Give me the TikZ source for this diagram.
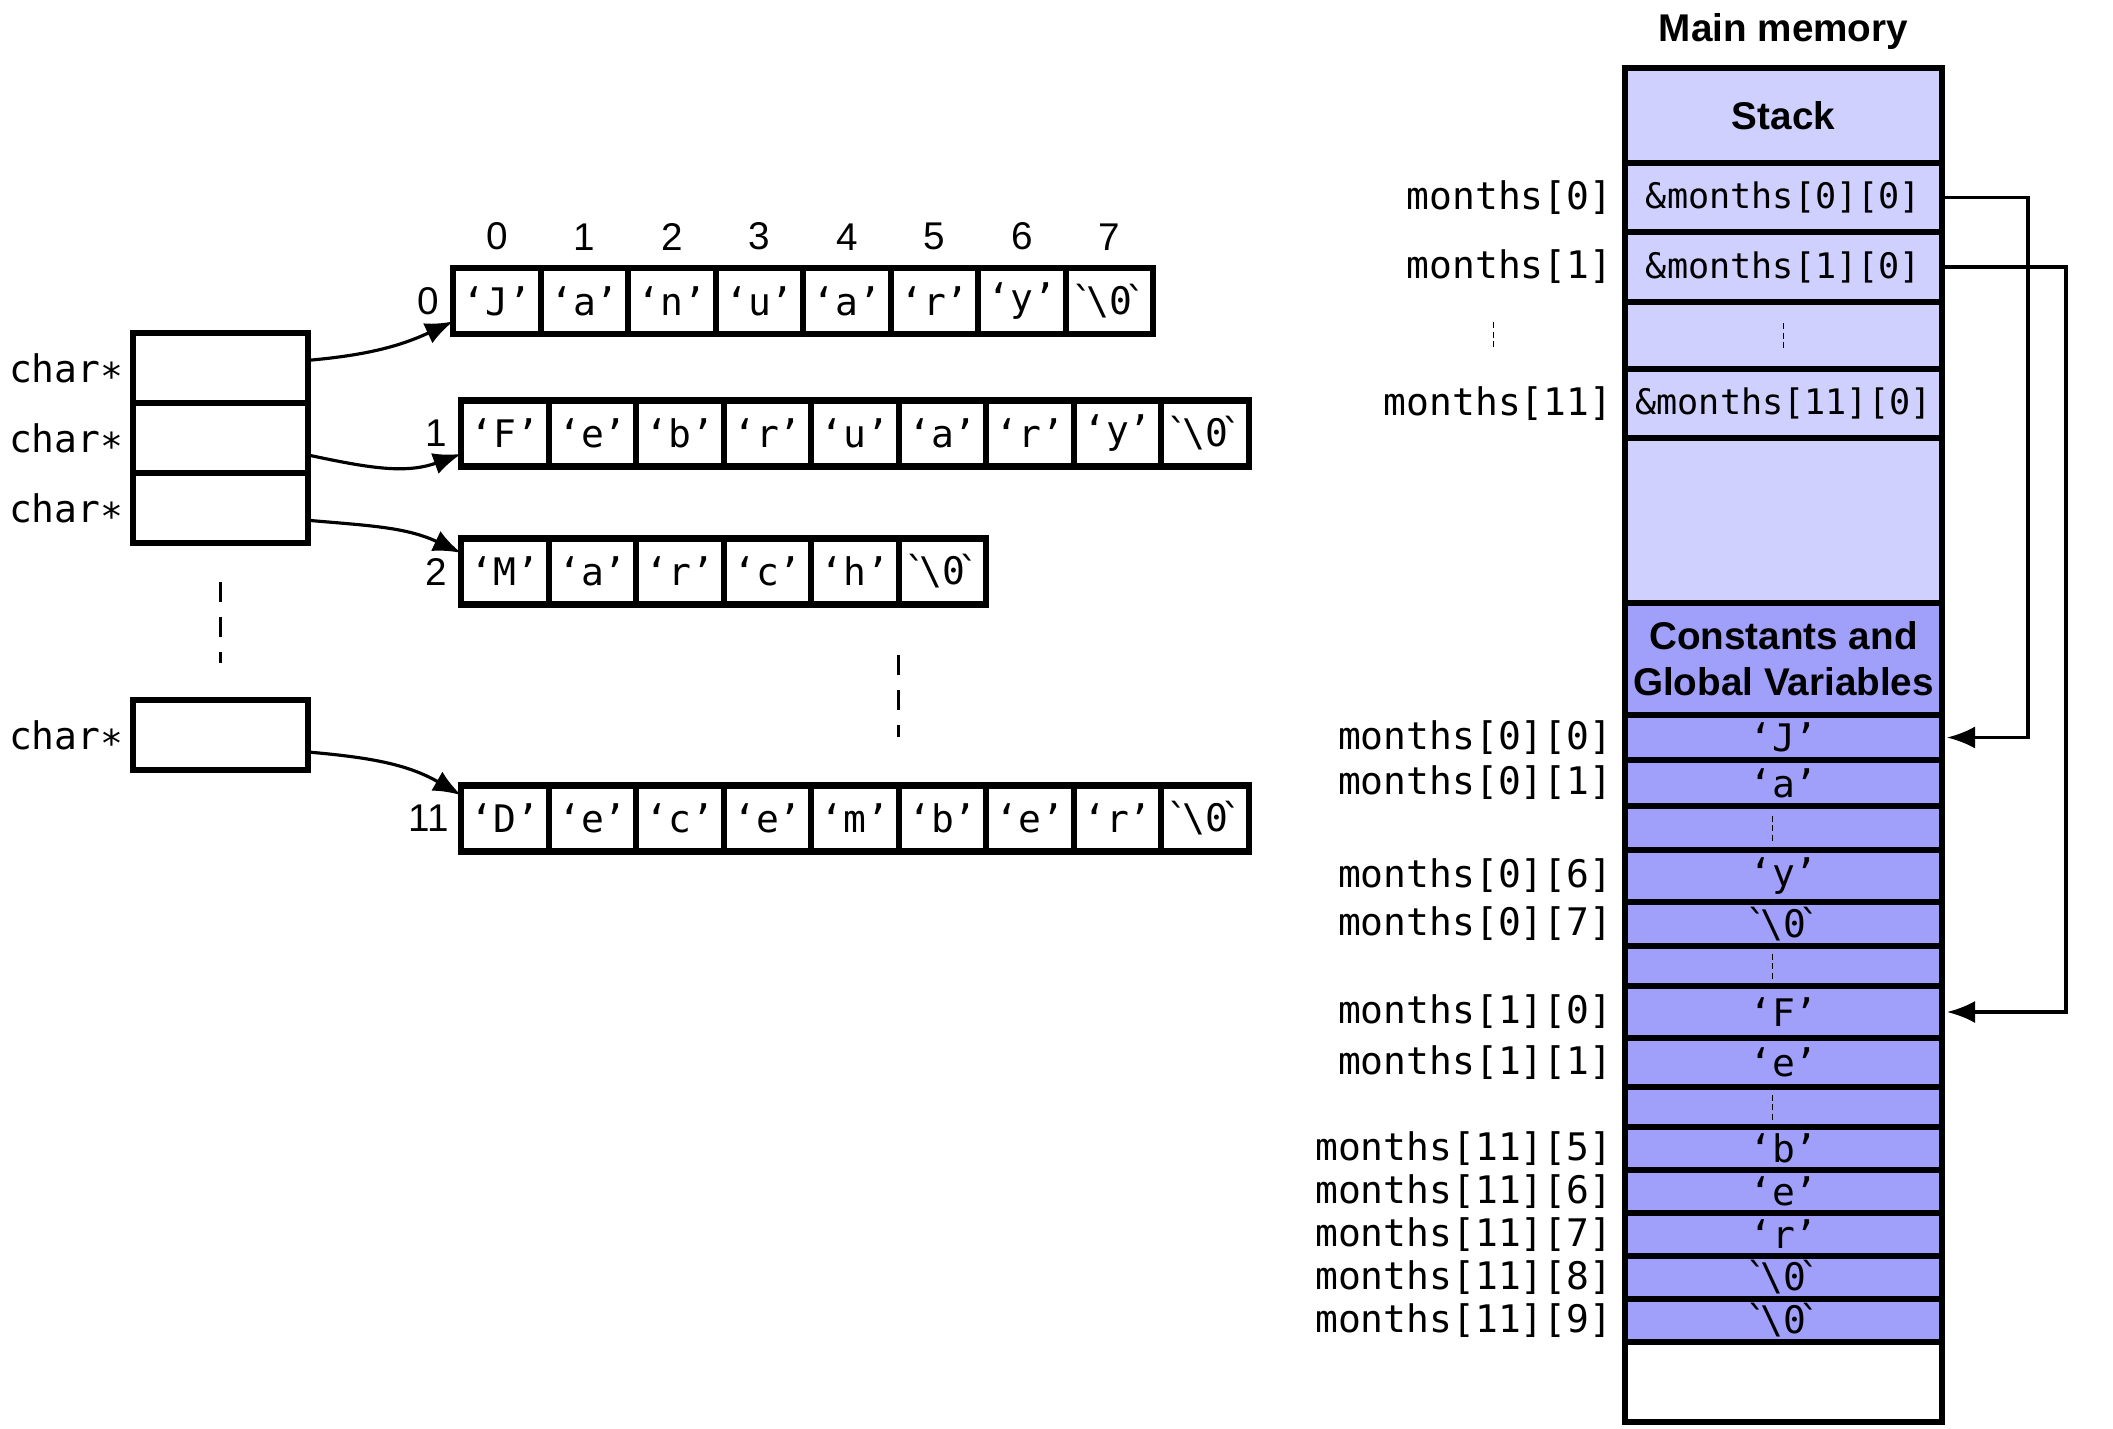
\documentclass[tikz,border=0pt]{standalone}
\usepackage{fontspec}
\setsansfont{Liberation Sans}
\setmonofont{DejaVu Sans Mono}
\usepackage{xcolor}
\usepackage{tikz}
\usetikzlibrary{positioning,arrows.meta}

\definecolor{stackfill}{RGB}{208,208,255}
\definecolor{globfill}{RGB}{160,160,250}
\newcommand{\nulchar}{\char"60\kern-0.2em\char"5C 0\kern-0.2em\char"60}

\begin{document}
\begin{tikzpicture}[
    x=1mm, y=1mm,
    font=\ttfamily\fontsize{10.8}{12}\selectfont,
    node distance=0pt,
    % --- pointer slots of the char* array ---
    slot/.style={draw, line width=1.8pt, minimum width=17.5mm, minimum height=7mm,
                 inner sep=0pt, outer sep=0pt},
    % --- one char of a string ---
    cell/.style={draw, line width=1.8pt, minimum width=8.75mm, minimum height=6.6mm,
                 inner sep=0pt, outer sep=0pt},
    idx/.style={font=\sffamily\fontsize{11}{13}\selectfont, inner sep=0pt},
    lbl/.style={inner sep=0pt},
    % --- main memory column ---
    mem/.style={draw, line width=1.9pt, minimum width=31.7mm, inner sep=0pt, outer sep=0pt},
    stk/.style={mem, fill=stackfill},
    glob/.style={mem, fill=globfill},
    region/.style={font=\sffamily\bfseries\fontsize{11}{13}\selectfont, align=center},
    addr/.style={font=\ttfamily\fontsize{10}{12}\selectfont},
    dotsline/.style={dash pattern=on 0.6mm off 0.35mm, line width=0.45pt},
    breakline/.style={dash pattern=on 2mm off 1.5mm, line width=0.9pt},
    ptr/.style={-{Latex[length=2.8mm,width=2.2mm]}, line width=0.9pt},
  ]
  \useasboundingbox (0,0) rectangle (211.3,142.8);

  % ---- char* array -------------------------------------------------------
  \node[slot] (p0) at (22.05,106) {};
  \node[slot, below=of p0] (p1) {};
  \node[slot, below=of p1] (p2) {};
  \node[slot] (p3) at (22.05,69.3) {};
  \node[lbl, left=0.9mm of p0] {char∗};
  \node[lbl, left=0.9mm of p1] {char∗};
  \node[lbl, left=0.9mm of p2] {char∗};
  \node[lbl, left=0.9mm of p3] {char∗};
  \draw[breakline] ([yshift=-3.9mm]p2.south) -- ([yshift=3.7mm]p3.north);

  % ---- the strings -------------------------------------------------------
  \foreach \ch [count=\i from 0] in {‘J’,‘a’,‘n’,‘u’,‘a’,‘r’,‘y’,\nulchar}
    \node[cell] (r0c\i) at ({49.7+8.75*\i},112.7) {\ch};
  \foreach \i in {0,...,7}
    \node[idx, above=1.7mm of r0c\i] {\i};
  \foreach \ch [count=\i from 0] in {‘F’,‘e’,‘b’,‘r’,‘u’,‘a’,‘r’,‘y’,\nulchar}
    \node[cell] (r1c\i) at ({50.5+8.75*\i},99.45) {\ch};
  \foreach \ch [count=\i from 0] in {‘M’,‘a’,‘r’,‘c’,‘h’,\nulchar}
    \node[cell] (r2c\i) at ({50.5+8.75*\i},85.65) {\ch};
  \foreach \ch [count=\i from 0] in {‘D’,‘e’,‘c’,‘e’,‘m’,‘b’,‘e’,‘r’,\nulchar}
    \node[cell] (r11c\i) at ({50.5+8.75*\i},60.95) {\ch};

  \node[idx, left=1.4mm of r0c0] {0};
  \node[idx, left=1.4mm of r1c0] {1};
  \node[idx, left=1.4mm of r2c0] {2};
  \node[idx, left=1.2mm of r11c0] {11};
  \draw[breakline] ([yshift=-5.05mm]r2c4.south east) -- ([yshift=4.85mm]r11c4.north east);

  \draw[ptr] (p0.5) to[out=5,in=205] (r0c0.205);
  \draw[ptr] (p1.-11) to[out=-12,in=200] (r1c0.205);
  \draw[ptr] (p2.-8) to[out=-5,in=155] (r2c0.157);
  \draw[ptr] (p3.-11) to[out=-5,in=150] (r11c0.152);

  % ---- MAIN MEMORY ---------------------------------------------------------
  \node[region] (title) at (178.35,139.6) {Main memory};
  \node[stk, region, minimum height=9.5mm] (stack) at (178.35,131.25) {Stack};
  \node[stk, addr, minimum height=6.9mm, below=of stack] (m0) {\&months[0][0]};
  \node[stk, addr, minimum height=7.0mm, below=of m0] (m1) {\&months[1][0]};
  \node[stk, minimum height=6.7mm, below=of m1] (mdots) {};
  \node[stk, addr, minimum height=6.9mm, below=of mdots] (m11) {\&months[11][0]};
  \node[stk, minimum height=16.5mm, below=of m11] (free) {};
  \node[glob, region, minimum height=11.2mm, below=of free] (consts)
        {Constants and\\Global Variables};
  \node[glob, minimum height=4.5mm, below=of consts] (g00) {‘J’};
  \node[glob, minimum height=4.6mm, below=of g00] (g01) {‘a’};
  \node[glob, minimum height=4.4mm, below=of g01] (gd1) {};
  \node[glob, minimum height=5.2mm, below=of gd1] (g06) {‘y’};
  \node[glob, minimum height=4.4mm, below=of g06] (g07) {\nulchar};
  \node[glob, minimum height=4.0mm, below=of g07] (gd2) {};
  \node[glob, minimum height=5.2mm, below=of gd2] (g10) {‘F’};
  \node[glob, minimum height=4.9mm, below=of g10] (g11) {‘e’};
  \node[glob, minimum height=4.0mm, below=of g11] (gd3) {};
  \node[glob, minimum height=4.3mm, below=of gd3] (g115) {‘b’};
  \node[glob, minimum height=4.3mm, below=of g115] (g116) {‘e’};
  \node[glob, minimum height=4.3mm, below=of g116] (g117) {‘r’};
  \node[glob, minimum height=4.3mm, below=of g117] (g118) {\nulchar};
  \node[glob, minimum height=4.3mm, below=of g118] (g119) {\nulchar};
  \node[mem, fill=white, minimum height=8.0mm, below=of g119] (rest) {};

  % names of the cells
  \node[lbl, left=1.2mm of m0] {months[0]};
  \node[lbl, left=1.2mm of m1] {months[1]};
  \node[lbl, left=1.2mm of m11] {months[11]};
  \node[lbl, left=1.2mm of g00] {months[0][0]};
  \node[lbl, left=1.2mm of g01] {months[0][1]};
  \node[lbl, left=1.2mm of g06] {months[0][6]};
  \node[lbl, left=1.2mm of g07] {months[0][7]};
  \node[lbl, left=1.2mm of g10] {months[1][0]};
  \node[lbl, left=1.2mm of g11] {months[1][1]};
  \node[lbl, left=1.2mm of g115] {months[11][5]};
  \node[lbl, left=1.2mm of g116] {months[11][6]};
  \node[lbl, left=1.2mm of g117] {months[11][7]};
  \node[lbl, left=1.2mm of g118] {months[11][8]};
  \node[lbl, left=1.2mm of g119] {months[11][9]};

  % skipped cells
  \draw[dotsline] ([yshift=1.25mm]mdots.center) -- ([yshift=-1.25mm]mdots.center);
  \draw[dotsline] ([xshift=-29mm,yshift=1.35mm]mdots.center)
        -- ([xshift=-29mm,yshift=-1.35mm]mdots.center);
  \draw[dotsline] ([xshift=-1.1mm,yshift=1.25mm]gd1.center)
        -- ([xshift=-1.1mm,yshift=-1.25mm]gd1.center);
  \draw[dotsline] ([xshift=-1.1mm,yshift=1.25mm]gd2.center)
        -- ([xshift=-1.1mm,yshift=-1.25mm]gd2.center);
  \draw[dotsline] ([xshift=-1.1mm,yshift=1.25mm]gd3.center)
        -- ([xshift=-1.1mm,yshift=-1.25mm]gd3.center);

  % pointers into the constants
  \draw[ptr, shorten >=0.5mm] (m0.east) -- ++(8.6,0) |- (g00.east);
  \draw[ptr, shorten >=0.5mm] (m1.east) -- ++(12.4,0) |- (g10.east);

\end{tikzpicture}
\end{document}
